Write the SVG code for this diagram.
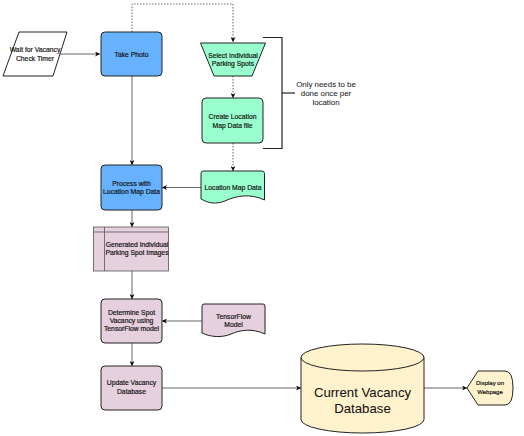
<svg xmlns="http://www.w3.org/2000/svg" width="524" height="436" viewBox="0 0 524 436">
<defs>
<marker id="arr" viewBox="0 0 10 10" refX="10" refY="5" markerWidth="5" markerHeight="5" orient="auto" markerUnits="userSpaceOnUse">
<path d="M0,0 L10,5 L0,10 L3,5 Z" fill="#000"/>
</marker>
<style>
.t{font-family:"Liberation Sans",Arial,sans-serif;font-size:6.8px;fill:#111;stroke:#111;stroke-width:0.18;text-anchor:middle}
.n{stroke:#222;stroke-width:1}
.c{stroke:#666;stroke-width:1;fill:none}
.d{stroke:#666;stroke-width:1;fill:none;stroke-dasharray:1.5 1.5}
.blue{fill:#66B2FF}
.green{fill:#99FFCC}
.pink{fill:#E6D0DE}
.yellow{fill:#FFF2CC}
</style>
</defs>
<rect width="524" height="436" fill="#fff"/>
<g id="connectors">
<line class="c" x1="60" y1="54" x2="100" y2="54" marker-end="url(#arr)"/>
<polyline class="d" points="132,32 132,4 233,4 233,42" marker-end="url(#arr)"/>
<line class="d" x1="233" y1="76" x2="233" y2="98" marker-end="url(#arr)"/>
<line class="d" x1="233" y1="143" x2="233" y2="171" marker-end="url(#arr)"/>
<line class="c" x1="132" y1="76" x2="132" y2="165" marker-end="url(#arr)"/>
<line class="c" x1="201" y1="187.5" x2="162" y2="187.5" marker-end="url(#arr)"/>
<line class="c" x1="132" y1="210" x2="132" y2="227" marker-end="url(#arr)"/>
<line class="c" x1="132" y1="271" x2="132" y2="299" marker-end="url(#arr)"/>
<line class="c" x1="202" y1="321" x2="162" y2="321" marker-end="url(#arr)"/>
<line class="c" x1="132" y1="343" x2="132" y2="366" marker-end="url(#arr)"/>
<line class="c" x1="162" y1="388" x2="301" y2="388" marker-end="url(#arr)"/>
<line class="c" x1="424" y1="388" x2="467" y2="388" marker-end="url(#arr)"/>
</g>
<g id="wait">
<path class="n" d="M19,32 H67 L53,76 H3 Z" fill="#fff" stroke-linejoin="round"/>
<text class="t" x="35" y="52">Wait for Vacancy</text>
<text class="t" x="35" y="60.5">Check Timer</text>
</g>
<g id="take-photo">
<rect class="n blue" x="101" y="32" width="61" height="44" rx="4"/>
<text class="t" x="131.5" y="56.5">Take Photo</text>
</g>
<g id="select-spots">
<path class="n green" d="M200.5,43 H265.5 L252,76 H214 Z"/>
<text class="t" x="233" y="57.5">Select Individual</text>
<text class="t" x="233" y="65.5">Parking Spots</text>
</g>
<g id="create-map">
<rect class="n green" x="202" y="98" width="61" height="45" rx="4"/>
<text class="t" x="232.5" y="119">Create Location</text>
<text class="t" x="232.5" y="127.5">Map Data file</text>
</g>
<g id="bracket">
<polyline points="263,37.5 282,37.5 282,148.5 263,148.5" fill="none" stroke="#222" stroke-width="1.2"/>
<line x1="282" y1="93" x2="295" y2="93" stroke="#222" stroke-width="1.2"/>
<text class="t" style="font-size:7.9px;stroke-width:0.05;fill:#222" x="326" y="87">Only needs to be</text>
<text class="t" style="font-size:7.9px;stroke-width:0.05;fill:#222" x="326" y="96">done once per</text>
<text class="t" style="font-size:7.9px;stroke-width:0.05;fill:#222" x="326" y="105">location</text>
</g>
<g id="location-map-data">
<path class="n green" d="M203,171 H262 Q264.5,171 264.5,173.5 V200 C250,193 236,196 226,200.5 C216,205 208,203 201,199 V173.5 Q201,171 203,171 Z"/>
<text class="t" x="233" y="190">Location Map Data</text>
</g>
<g id="process">
<rect class="n blue" x="101" y="165" width="61" height="45" rx="4"/>
<text class="t" x="131.5" y="185.5">Process with</text>
<text class="t" x="131.5" y="194">Location Map Data</text>
</g>
<g id="generated">
<rect x="93.5" y="227" width="75" height="44" class="pink" stroke="#555" stroke-width="0.8"/>
<line x1="104.5" y1="227" x2="104.5" y2="271" stroke="#555" stroke-width="0.8"/>
<line x1="93.5" y1="232" x2="168.5" y2="232" stroke="#555" stroke-width="0.8"/>
<text class="t" x="137" y="246.5">Generated Individual</text>
<text class="t" x="137" y="255">Parking Spot Images</text>
</g>
<g id="determine">
<rect class="n pink" x="101" y="299" width="61" height="44" rx="4"/>
<text class="t" x="131.5" y="315">Determine Spot</text>
<text class="t" x="131.5" y="323">Vacancy using</text>
<text class="t" x="131.5" y="331">TensorFlow model</text>
</g>
<g id="tensorflow">
<path class="n pink" d="M204,304 H263 Q265,304 265,306 V334 C252,328 240,330 231,334 C222,338 210,337 202,333 V306 Q202,304 204,304 Z"/>
<text class="t" x="233.5" y="319">TensorFlow</text>
<text class="t" x="233.5" y="326.5">Model</text>
</g>
<g id="update">
<rect class="n pink" x="101" y="366" width="61" height="44" rx="4"/>
<text class="t" x="131.5" y="385">Update Vacancy</text>
<text class="t" x="131.5" y="393.5">Database</text>
</g>
<g id="database">
<path class="n yellow" d="M301,357.5 A61.5,13.5 0 0 1 424,357.5 V419.5 A61.5,13.5 0 0 1 301,419.5 Z"/>
<path d="M301,357.5 A61.5,13.5 0 0 0 424,357.5" fill="none" stroke="#222" stroke-width="1"/>
<text class="t" style="font-size:13.2px;stroke-width:0.05" x="362.5" y="396.5">Current Vacancy</text>
<text class="t" style="font-size:13.2px;stroke-width:0.05" x="362.5" y="413">Database</text>
</g>
<g id="display">
<path class="n yellow" d="M467,388 L478,371 H505 Q513,371 513,388 Q513,405 505,405 H478 Z"/>
<text class="t" style="font-size:6px" x="490" y="385">Display on</text>
<text class="t" style="font-size:6px" x="490" y="393.5">Webpage</text>
</g>
</svg>
